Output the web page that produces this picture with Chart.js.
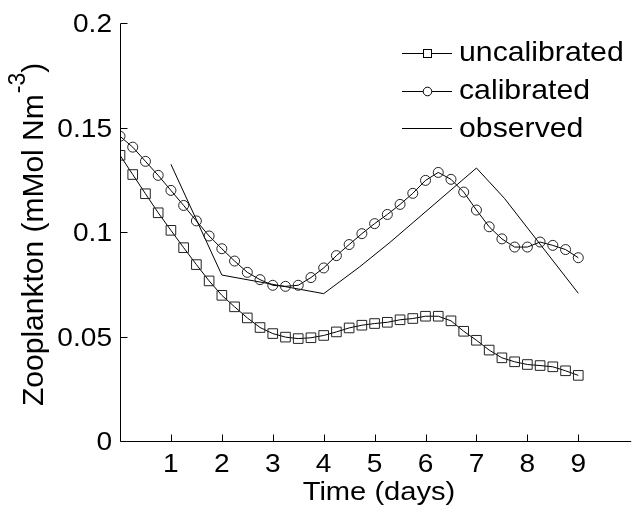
<!DOCTYPE html>
<html>
<head>
<meta charset="utf-8">
<script src="https://cdn.jsdelivr.net/npm/chart.js@4"></script>
<style>
  body { margin: 0; background: #fff; }
  #chart { display: block; }
</style>
</head>
<body>
<canvas id="chart" width="637" height="514"></canvas>
<script>
// model output every 6 hours
const times = [0, 0.25, 0.5, 0.75, 1, 1.25, 1.5, 1.75, 2, 2.25, 2.5, 2.75, 3, 3.25, 3.5, 3.75,
  4, 4.25, 4.5, 4.75, 5, 5.25, 5.5, 5.75, 6, 6.25, 6.5, 6.75, 7, 7.25, 7.5, 7.75, 8, 8.25, 8.5, 8.75, 9];
const uncalibrated = [0.1367, 0.1275, 0.1183, 0.1092, 0.1008, 0.0925, 0.0844, 0.0766, 0.0697, 0.0642,
  0.0589, 0.0543, 0.0514, 0.0497, 0.0490, 0.0494, 0.0505, 0.0522, 0.0541, 0.0554, 0.0562, 0.0568,
  0.0580, 0.0586, 0.0597, 0.0597, 0.0575, 0.0525, 0.0482, 0.0435, 0.0398, 0.0379, 0.0366, 0.0361,
  0.0355, 0.0336, 0.0314];
const calibrated = [0.1458, 0.1406, 0.1338, 0.1271, 0.1199, 0.1127, 0.1053, 0.0981, 0.0920, 0.0861,
  0.0807, 0.0772, 0.0745, 0.0740, 0.0745, 0.0782, 0.0828, 0.0887, 0.0940, 0.0992, 0.1040, 0.1084,
  0.1132, 0.1185, 0.1247, 0.1285, 0.1252, 0.1191, 0.1105, 0.1025, 0.0967, 0.0928, 0.0928, 0.0952,
  0.0936, 0.0916, 0.0877];
const obsTimes = [1, 2, 4, 4.7, 5.3, 7, 7.55, 9];
const observed = [0.1324, 0.0794, 0.0705, 0.0832, 0.0950, 0.1306, 0.1161, 0.0707];

const seriesNames = ["uncalibrated", "calibrated", "observed"];
const xTicks = [1, 2, 3, 4, 5, 6, 7, 8, 9];
const yTicks = [0, 0.05, 0.1, 0.15, 0.2];
const yTickLabels = ["0", "0.05", "0.1", "0.15", "0.2"];

const FONT = '"Liberation Sans", Arial, sans-serif';

function toPoints(xs, ys) {
  return xs.map((x, i) => ({ x: x, y: ys[i] }));
}

// text is a bit wide in the original, so stretch it horizontally
function wideText(ctx, text, x, y, align, sx) {
  ctx.save();
  ctx.translate(x, y);
  ctx.scale(sx, 1);
  ctx.textAlign = align;
  ctx.fillText(text, 0, 0);
  ctx.restore();
}

const axesPlugin = {
  id: "matlabAxes",
  afterDraw(chart) {
    const ctx = chart.ctx;
    const xs = chart.scales.x;
    const ys = chart.scales.y;
    const area = chart.chartArea;
    ctx.save();
    ctx.strokeStyle = "#000";
    ctx.fillStyle = "#000";
    ctx.lineWidth = 1;

    // axis lines
    const x0 = Math.round(xs.getPixelForValue(0)) + 0.5;
    const y0 = Math.round(ys.getPixelForValue(0)) + 0.5;
    ctx.beginPath();
    ctx.moveTo(x0, Math.round(ys.getPixelForValue(0.2)) + 0.5);
    ctx.lineTo(x0, y0);
    ctx.lineTo(area.right + 2, y0);
    ctx.stroke();

    // inward ticks
    ctx.beginPath();
    yTicks.forEach(v => {
      const py = Math.round(ys.getPixelForValue(v)) + 0.5;
      ctx.moveTo(x0, py);
      ctx.lineTo(x0 + 7, py);
    });
    xTicks.forEach(v => {
      const px = Math.round(xs.getPixelForValue(v)) + 0.5;
      ctx.moveTo(px, y0);
      ctx.lineTo(px, y0 - 7);
    });
    ctx.stroke();

    // tick labels
    ctx.font = "26px " + FONT;
    ctx.textBaseline = "alphabetic";
    yTicks.forEach((v, i) => {
      wideText(ctx, yTickLabels[i], 112, ys.getPixelForValue(v) + 9, "right", 1.08);
    });
    xTicks.forEach(v => {
      wideText(ctx, String(v), xs.getPixelForValue(v), 472, "center", 1.08);
    });

    // x title
    ctx.font = "26px " + FONT;
    wideText(ctx, "Time (days)", 379, 500, "center", 1.12);

    // y title, with superscript exponent
    ctx.save();
    ctx.translate(43, 406);
    ctx.rotate(-Math.PI / 2);
    ctx.textAlign = "left";
    ctx.font = "30px " + FONT;
    const main = "Zooplankton (mMol Nm";
    ctx.fillText(main, 0, 0);
    let off = ctx.measureText(main).width + 1;
    ctx.font = "23px " + FONT;
    ctx.fillText("-3", off, -18);
    off += ctx.measureText("-3").width;
    ctx.font = "30px " + FONT;
    ctx.fillText(")", off, 0);
    ctx.restore();

    // legend
    const rows = [52.5, 90.5, 128];
    ctx.font = "28px " + FONT;
    ctx.textBaseline = "middle";
    rows.forEach((ry, i) => {
      const ly = Math.round(ry) + 0.5;
      ctx.beginPath();
      ctx.moveTo(402, ly);
      ctx.lineTo(452, ly);
      ctx.stroke();
      if (i === 0) {
        ctx.fillStyle = "#fff";
        ctx.fillRect(423.5, ly - 4, 8, 8);
        ctx.strokeRect(423.5, ly - 4, 8, 8);
      } else if (i === 1) {
        ctx.fillStyle = "#fff";
        ctx.beginPath();
        ctx.arc(427.5, ly, 4.3, 0, Math.PI * 2);
        ctx.fill();
        ctx.stroke();
      }
      ctx.fillStyle = "#000";
      wideText(ctx, seriesNames[i], 459, ry + 1, "left", 1.08);
    });
    ctx.restore();
  }
};

new Chart(document.getElementById("chart"), {
  type: "scatter",
  data: {
    datasets: [
      {
        label: seriesNames[0],
        data: toPoints(times, uncalibrated),
        showLine: true,
        borderColor: "#000",
        borderWidth: 1,
        pointStyle: "rect",
        pointRadius: 6.8,
        pointBorderColor: "#222",
        pointBackgroundColor: "rgba(0,0,0,0)",
        pointBorderWidth: 1
      },
      {
        label: seriesNames[1],
        data: toPoints(times, calibrated),
        showLine: true,
        borderColor: "#000",
        borderWidth: 1,
        pointStyle: "circle",
        pointRadius: 5,
        pointBorderColor: "#222",
        pointBackgroundColor: "rgba(0,0,0,0)",
        pointBorderWidth: 1
      },
      {
        label: seriesNames[2],
        data: toPoints(obsTimes, observed),
        showLine: true,
        borderColor: "#000",
        borderWidth: 1,
        pointRadius: 0
      }
    ]
  },
  options: {
    responsive: false,
    devicePixelRatio: 1,
    animation: false,
    layout: { padding: { left: 120, right: 0, top: 23, bottom: 73 } },
    plugins: {
      legend: { display: false },
      tooltip: { enabled: false }
    },
    scales: {
      x: { type: "linear", min: 0, max: 10, display: false },
      y: { type: "linear", min: 0, max: 0.2, display: false }
    },
    elements: { line: { tension: 0 } }
  },
  plugins: [axesPlugin]
});
</script>
</body>
</html>
